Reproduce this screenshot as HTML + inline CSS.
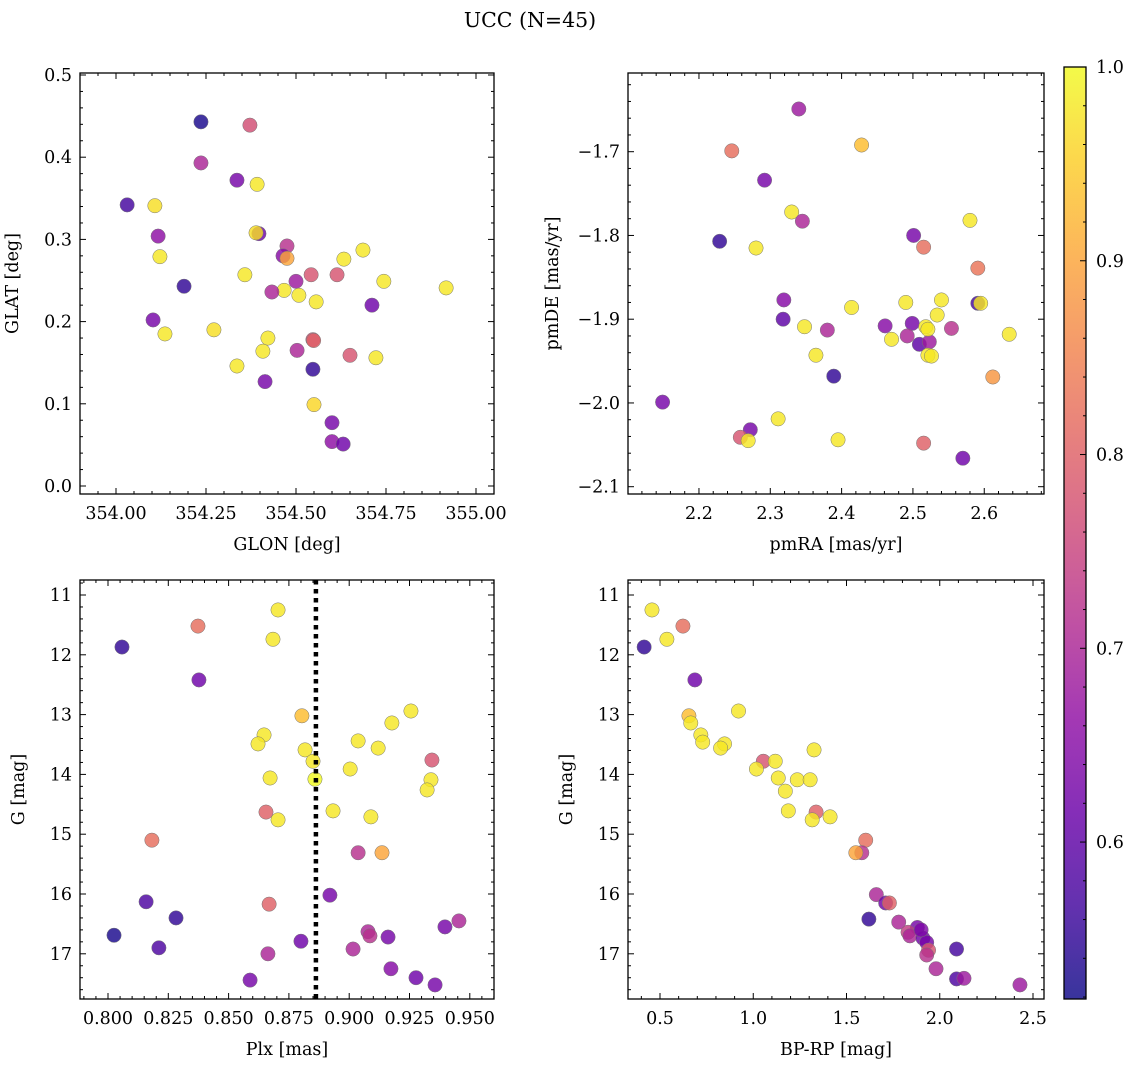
<!DOCTYPE html>
<html><head><meta charset="utf-8"><style>
html,body{margin:0;padding:0;background:#fff;}
svg{display:block;font-family:"DejaVu Serif","Liberation Serif",serif;}
</style></head><body>
<svg id="fig" width="1136" height="1067" viewBox="0 0 1136 1067" xmlns="http://www.w3.org/2000/svg">
<text x="530" y="27" font-size="20.5" text-anchor="middle">UCC (N=45)</text>
</svg>
<script>
// ---- data ----
const glon=[354.236,354.372,354.236,354.336,354.392,354.031,354.108,354.117,354.397,354.389,354.475,354.686,354.122,354.464,354.475,354.633,354.358,354.542,354.614,354.500,354.744,354.189,354.917,354.467,354.433,354.508,354.556,354.711,354.103,354.136,354.272,354.422,354.503,354.408,354.547,354.549,354.650,354.722,354.336,354.547,354.414,354.550,354.600,354.600,354.631];
const glat=[0.443,0.439,0.393,0.372,0.367,0.342,0.341,0.304,0.307,0.308,0.292,0.287,0.279,0.280,0.277,0.276,0.257,0.257,0.257,0.249,0.249,0.243,0.241,0.238,0.236,0.232,0.224,0.220,0.202,0.185,0.190,0.180,0.165,0.164,0.178,0.177,0.159,0.156,0.146,0.142,0.127,0.099,0.077,0.054,0.051];
const prob1=[0.53,0.77,0.70,0.63,0.98,0.57,0.97,0.66,0.62,0.97,0.72,0.98,0.98,0.65,0.90,0.98,0.98,0.78,0.78,0.68,0.98,0.55,0.98,0.98,0.70,0.98,0.98,0.62,0.63,0.98,0.97,0.98,0.70,0.98,0.77,0.80,0.78,0.98,0.98,0.55,0.63,0.96,0.63,0.66,0.62];
const pmra=[2.340,2.246,2.428,2.292,2.330,2.345,2.580,2.229,2.501,2.280,2.515,2.591,2.319,2.414,2.490,2.540,2.591,2.595,2.534,2.318,2.348,2.380,2.461,2.499,2.518,2.554,2.635,2.492,2.470,2.509,2.523,2.521,2.526,2.364,2.389,2.612,2.149,2.311,2.395,2.272,2.258,2.269,2.515,2.570,2.521];
const pmde=[-1.649,-1.699,-1.692,-1.734,-1.772,-1.783,-1.782,-1.807,-1.800,-1.815,-1.814,-1.839,-1.877,-1.886,-1.880,-1.877,-1.881,-1.881,-1.895,-1.900,-1.909,-1.913,-1.908,-1.905,-1.909,-1.911,-1.918,-1.920,-1.924,-1.930,-1.927,-1.943,-1.944,-1.943,-1.968,-1.969,-1.999,-2.019,-2.044,-2.032,-2.041,-2.045,-2.048,-2.066,-1.912];
const prob2=[0.68,0.82,0.93,0.63,0.98,0.70,0.98,0.55,0.63,0.98,0.82,0.83,0.65,0.98,0.98,0.98,0.57,0.98,0.98,0.60,0.98,0.70,0.65,0.63,0.98,0.72,0.98,0.70,0.98,0.60,0.68,0.98,0.98,0.98,0.55,0.88,0.63,0.98,0.98,0.63,0.78,0.98,0.80,0.62,0.98];
const plx=[0.8705,0.8373,0.8058,0.8684,0.8377,0.9256,0.8804,0.9177,0.8647,0.8622,0.9037,0.9120,0.8817,0.8850,0.9343,0.8858,0.8672,0.9339,0.9004,0.9323,0.8933,0.8655,0.8705,0.9090,0.8182,0.9037,0.9136,0.8920,0.8158,0.8668,0.8282,0.9455,0.9397,0.8025,0.9078,0.9086,0.9161,0.8800,0.8211,0.9016,0.8663,0.9173,0.8589,0.9277,0.9356];
const gmag=[11.25,11.52,11.87,11.74,12.42,12.94,13.02,13.14,13.34,13.49,13.44,13.56,13.59,13.78,13.76,14.08,14.06,14.09,13.91,14.26,14.61,14.63,14.76,14.71,15.10,15.31,15.31,16.02,16.13,16.17,16.40,16.45,16.55,16.69,16.63,16.70,16.72,16.79,16.90,16.92,17.00,17.25,17.44,17.40,17.52];
const prob3=[0.98,0.82,0.55,0.98,0.62,0.98,0.93,0.98,0.98,0.98,0.98,0.98,0.98,0.98,0.78,1.00,0.98,0.98,0.98,0.98,0.98,0.80,0.98,0.98,0.82,0.72,0.90,0.63,0.58,0.80,0.55,0.70,0.63,0.53,0.70,0.72,0.63,0.62,0.58,0.70,0.70,0.65,0.63,0.62,0.63];
const bprp=[0.457,0.623,0.415,0.537,0.687,0.921,0.655,0.665,0.719,0.729,0.846,0.825,1.326,1.054,1.118,1.017,1.134,1.236,1.305,1.172,1.188,1.337,1.316,1.412,1.603,1.582,1.550,1.66,1.71,1.73,1.62,1.78,1.88,1.83,1.84,1.91,1.93,1.94,1.93,2.09,1.98,2.09,2.13,2.43,1.90];
const gmag4=[11.25,11.52,11.87,11.74,12.42,12.94,13.02,13.14,13.34,13.46,13.49,13.56,13.59,13.78,13.78,13.91,14.06,14.09,14.09,14.28,14.61,14.63,14.76,14.71,15.10,15.31,15.31,16.01,16.15,16.15,16.42,16.47,16.56,16.64,16.70,16.74,16.81,16.94,17.02,16.92,17.25,17.42,17.41,17.52,16.60];
const prob4=[0.98,0.82,0.55,0.98,0.62,0.98,0.93,0.98,0.98,0.98,0.98,0.98,0.98,0.78,0.98,0.98,0.98,0.98,0.98,0.98,0.98,0.80,0.98,0.98,0.82,0.72,0.90,0.70,0.62,0.80,0.55,0.70,0.63,0.74,0.70,0.62,0.63,0.78,0.72,0.57,0.70,0.58,0.68,0.68,0.64];
const plxMean=[0.8862];
const cbTicks=[0.6,0.7,0.8,0.9,1.0];
const CMIN=0.519, CMAX=1.0;

const NS='http://www.w3.org/2000/svg';
const svg=document.getElementById('fig');
function mk(tag,attrs,parent){const e=document.createElementNS(NS,tag);for(const k in attrs)e.setAttribute(k,attrs[k]);(parent||svg).appendChild(e);return e;}
const stops=['#0d0887','#41049d','#6a00a8','#8f0da4','#b12a90','#cc4778','#e16462','#f2844b','#fca636','#fcce25','#f0f921'];
function hex(h){return [1,3,5].map(i=>parseInt(h.substr(i,2),16));}
function plasma(t){t=Math.max(0,Math.min(1,t));const f=t*10,i=Math.min(9,Math.floor(f)),r=f-i;const a=hex(stops[i]),b=hex(stops[i+1]);return 'rgb('+a.map((v,k)=>Math.round(v+(b[k]-v)*r)).join(',')+')';}
function col(p){return plasma((p-CMIN)/(CMAX-CMIN));}
function fmt(v,d){let s=v.toFixed(d);if(v<0)s='\u2212'+s.slice(1);return s;}
const FS=17.5;

function panel(o){
  const g=mk('g',{});
  
  
  const X=v=>o.L+(v-o.x0)/(o.x1-o.x0)*(o.R-o.L);
  const Y=v=>o.B-(v-o.y0)/(o.y1-o.y0)*(o.B-o.T);
  const pg=mk('g',{},g);
  
  
  o.xs.forEach((xv,i)=>{
    const c=mk('circle',{cx:X(xv),cy:Y(o.ys[i]),r:7.2,fill:col(o.ps[i]),'fill-opacity':0.82,stroke:'#777','stroke-width':0.5},pg);
    
    
  });
  if(o.vline){o.vline.forEach(v=>{const l=mk('line',{x1:X(v),x2:X(v),y1:o.T,y2:o.B,stroke:'#000','stroke-width':4.5,'stroke-dasharray':'4.5,4.5'},g);
    
    });}
  const fr=mk('rect',{x:o.L,y:o.T,width:o.R-o.L,height:o.B-o.T,fill:'none',stroke:'#000','stroke-width':1.3},g);
  
  
  const lo=Math.min(o.x0,o.x1),hi=Math.max(o.x0,o.x1);
  for(let k=Math.ceil(lo/o.xmin-1e-6);k*o.xmin<=hi+1e-9;k++){
    const v=k*o.xmin;if(v<lo||v>hi)continue;const isMaj=Math.abs(v/o.xmaj-Math.round(v/o.xmaj))<1e-4;const len=isMaj?6:3;const x=X(v);
    mk('line',{x1:x,x2:x,y1:o.B,y2:o.B-len,stroke:'#000','stroke-width':1},g);
    mk('line',{x1:x,x2:x,y1:o.T,y2:o.T+len,stroke:'#000','stroke-width':1},g);
    if(isMaj){const t=mk('text',{x:x,y:o.B+25,'font-size':FS,'text-anchor':'middle'},g);t.textContent=fmt(v,o.xd);
      }
  }
  const ylo=Math.min(o.y0,o.y1),yhi=Math.max(o.y0,o.y1);
  for(let k=Math.ceil(ylo/o.ymin-1e-6);k*o.ymin<=yhi+1e-9;k++){
    const v=k*o.ymin;if(v<ylo||v>yhi)continue;const isMaj=Math.abs(v/o.ymaj-Math.round(v/o.ymaj))<1e-4;const len=isMaj?6:3;const y=Y(v);
    mk('line',{x1:o.L,x2:o.L+len,y1:y,y2:y,stroke:'#000','stroke-width':1},g);
    mk('line',{x1:o.R,x2:o.R-len,y1:y,y2:y,stroke:'#000','stroke-width':1},g);
    if(isMaj){const t=mk('text',{x:o.L-8,y:y+6,'font-size':FS,'text-anchor':'end'},g);t.textContent=fmt(v,o.yd);
      }
  }
  const xl=mk('text',{x:(o.L+o.R)/2,y:o.B+56,'font-size':FS,'text-anchor':'middle'},g);xl.textContent=o.xlab;
  
  const yx=o.L-o.ylo,yy=(o.T+o.B)/2;
  const yl=mk('text',{x:yx,y:yy,'font-size':FS,'text-anchor':'middle',transform:'rotate(-90 '+yx+' '+yy+')'},g);yl.textContent=o.ylab;
  
}

panel({name:'glon-glat-panel',L:80,R:494,T:73,B:494,x0:354+(80-116)/360,x1:354+(494-116)/360,y0:(486-494)/822,y1:(486-73)/822,
  xmaj:0.25,xmin:0.05,ymaj:0.1,ymin:0.02,xd:2,yd:1,xs:glon,ys:glat,ps:prob1,xlab:'GLON [deg]',ylab:'GLAT [deg]',ylo:62});
panel({name:'pm-panel',L:628,R:1044,T:73,B:494,x0:2.1005,x1:2.2+(1044-701)/709,y0:-1.7-(494-151.7)/837.5,y1:-1.7-(73-151.7)/837.5,
  xmaj:0.1,xmin:0.02,ymaj:0.1,ymin:0.02,xd:1,yd:1,xs:pmra,ys:pmde,ps:prob2,xlab:'pmRA [mas/yr]',ylab:'pmDE [mas/yr]',ylo:70});
const gy0=11+(999-595)/59.8, gy1=11+(580-595)/59.8;
panel({name:'plx-g-panel',L:80,R:494,T:580,B:999,x0:0.8+(80-108)*0.025/60.3,x1:0.8+(494-108)*0.025/60.3,y0:gy0,y1:gy1,
  xmaj:0.025,xmin:0.005,ymaj:1,ymin:0.2,xd:3,yd:0,xs:plx,ys:gmag,ps:prob3,xlab:'Plx [mas]',ylab:'G [mag]',ylo:56,vline:plxMean});
panel({name:'cmd-panel',L:628,R:1044,T:580,B:999,x0:0.5+(628-660)/186.5,x1:0.5+(1044-660)/186.5,y0:gy0,y1:gy1,
  xmaj:0.5,xmin:0.1,ymaj:1,ymin:0.2,xd:1,yd:0,xs:bprp,ys:gmag4,ps:prob4,xlab:'BP-RP [mag]',ylab:'G [mag]',ylo:56});

// colorbar
const cb=mk('g',{});


const defs=mk('defs',{},cb);
const lg=mk('linearGradient',{id:'cbg',x1:0,y1:1,x2:0,y2:0},defs);
for(let i=0;i<=20;i++)mk('stop',{offset:i/20,'stop-color':plasma(i/20),'stop-opacity':0.82},lg);
const CT=67,CB=999,CL=1064,CR=1086;
const CY=v=>CB-(v-CMIN)/(CMAX-CMIN)*(CB-CT);
mk('rect',{x:CL,y:CT,width:CR-CL,height:CB-CT,fill:'url(#cbg)',stroke:'#000','stroke-width':1.3},cb);
for(let k=26;k<=50;k++){const v=k*0.02;const y=CY(v);const maj=(k%5===0);
  mk('line',{x1:CR,x2:CR-(maj?6:3),y1:y,y2:y,stroke:'#000','stroke-width':1},cb);}
cbTicks.forEach(v=>{const t=mk('text',{x:CR+10,y:CY(v)+6,'font-size':FS},cb);t.textContent=v.toFixed(1);
  });
</script>
</body></html>
